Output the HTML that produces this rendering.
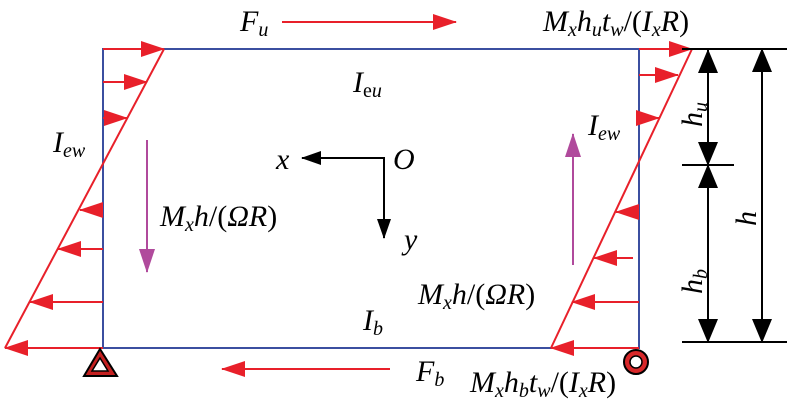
<!DOCTYPE html>
<html><head><meta charset="utf-8"><style>
html,body{margin:0;padding:0;background:#fff;}
svg{display:block;}
text{font-family:"Liberation Serif",serif;font-style:italic;fill:#000;}
.s{font-size:20px;}
</style></head><body>
<svg width="795" height="404" viewBox="0 0 795 404" xmlns="http://www.w3.org/2000/svg">
<defs>
<marker id="rb" markerWidth="24" markerHeight="16" refX="23" refY="8" orient="auto" markerUnits="userSpaceOnUse"><path d="M0,0 L24,8 L0,16 Z" fill="#e8202a"/></marker>
<marker id="k" markerWidth="24" markerHeight="20" refX="23" refY="10" orient="auto" markerUnits="userSpaceOnUse"><path d="M0,0 L24,10 L0,20 Z" fill="#000"/></marker>
<marker id="ks" markerWidth="20" markerHeight="14" refX="19" refY="7" orient="auto" markerUnits="userSpaceOnUse"><path d="M0,0 L20,7 L0,14 Z" fill="#000"/></marker>
<marker id="p" markerWidth="24" markerHeight="16" refX="23" refY="8" orient="auto" markerUnits="userSpaceOnUse"><path d="M0,0 L24,8 L0,16 Z" fill="#b04a9c"/></marker>
</defs>
<rect x="103" y="49" width="536" height="299" fill="none" stroke="#3b4fa0" stroke-width="2"/>
<line x1="164" y1="49" x2="5" y2="348" stroke="#e8202a" stroke-width="2"/>
<g stroke="#e8202a" stroke-width="2">
<line x1="103" y1="49" x2="164" y2="49" marker-end="url(#rb)"/>
<line x1="103" y1="82" x2="147" y2="82" marker-end="url(#rb)"/>
<line x1="103" y1="118" x2="127" y2="118" marker-end="url(#rb)"/>
<line x1="103" y1="210" x2="80" y2="210" marker-end="url(#rb)"/>
<line x1="103" y1="249" x2="58" y2="249" marker-end="url(#rb)"/>
<line x1="103" y1="302" x2="30" y2="302" marker-end="url(#rb)"/>
<line x1="103" y1="348" x2="5" y2="348" marker-end="url(#rb)"/>
</g>
<line x1="692" y1="49" x2="551" y2="348" stroke="#e8202a" stroke-width="2"/>
<g stroke="#e8202a" stroke-width="2">
<line x1="639" y1="49" x2="692" y2="49" marker-end="url(#rb)"/>
<line x1="639" y1="75" x2="678" y2="75" marker-end="url(#rb)"/>
<line x1="639" y1="118" x2="659" y2="118" marker-end="url(#rb)"/>
<line x1="639" y1="212" x2="616" y2="212" marker-end="url(#rb)"/>
<line x1="633" y1="258" x2="594" y2="258" marker-end="url(#rb)"/>
<line x1="639" y1="302" x2="572" y2="302" marker-end="url(#rb)"/>
<line x1="639" y1="348" x2="551" y2="348" marker-end="url(#rb)"/>
</g>
<line x1="282" y1="22" x2="456" y2="22" stroke="#e8202a" stroke-width="2" marker-end="url(#rb)"/>
<line x1="390" y1="369" x2="222" y2="369" stroke="#e8202a" stroke-width="2" marker-end="url(#rb)"/>
<line x1="147" y1="140" x2="147" y2="272" stroke="#b04a9c" stroke-width="2" marker-end="url(#p)"/>
<line x1="573" y1="265" x2="573" y2="134" stroke="#b04a9c" stroke-width="2" marker-end="url(#p)"/>
<path d="M384,158 L302,158" stroke="#000" stroke-width="2" fill="none" marker-end="url(#ks)"/>
<path d="M384,157 L384,238" stroke="#000" stroke-width="2" fill="none" marker-end="url(#ks)"/>
<g stroke="#000" stroke-width="2">
<line x1="682" y1="49" x2="787" y2="49"/>
<line x1="682" y1="165" x2="734" y2="165"/>
<line x1="682" y1="342" x2="787" y2="342"/>
<line x1="708" y1="165" x2="708" y2="50" marker-end="url(#k)"/>
<line x1="708" y1="50" x2="708" y2="165" marker-end="url(#k)"/>
<line x1="708" y1="342" x2="708" y2="165" marker-end="url(#k)"/>
<line x1="708" y1="165" x2="708" y2="342" marker-end="url(#k)"/>
<line x1="762" y1="342" x2="762" y2="49" marker-end="url(#k)"/>
<line x1="762" y1="49" x2="762" y2="342" marker-end="url(#k)"/>
</g>
<path d="M100,349 L84,376 L117,376 Z" fill="#c42020" stroke="#000" stroke-width="2"/>
<path d="M100,358 L92,371 L108,371 Z" fill="#fff" stroke="#000" stroke-width="1.5"/>
<circle cx="636" cy="362" r="12" fill="#d8282a" stroke="#000" stroke-width="2"/>
<circle cx="636" cy="362" r="6" fill="#fff" stroke="#000" stroke-width="1.5"/>
<text x="240" y="31" font-size="30">F<tspan class="s" dy="5">u</tspan></text>
<text x="543" y="31" font-size="30">M<tspan class="s" dy="5">x</tspan><tspan dy="-5">h</tspan><tspan class="s" dy="5">u</tspan><tspan dy="-5">t</tspan><tspan class="s" dy="5">w</tspan><tspan dy="-5" style="font-style:normal">/(</tspan>I<tspan class="s" dy="5">x</tspan><tspan dy="-5">R</tspan><tspan style="font-style:normal">)</tspan></text>
<text x="353" y="92" font-size="30">I<tspan class="s" dy="5" style="font-style:normal">e</tspan><tspan class="s">u</tspan></text>
<text x="53" y="152" font-size="30">I<tspan class="s" dy="5">ew</tspan></text>
<text x="588" y="135" font-size="30">I<tspan class="s" dy="5">ew</tspan></text>
<text x="276" y="169" font-size="30">x</text>
<text x="393" y="169" font-size="30">O</text>
<text x="404" y="249" font-size="30">y</text>
<text x="160" y="226" font-size="30">M<tspan class="s" dy="5">x</tspan><tspan dy="-5">h</tspan><tspan style="font-style:normal">/(</tspan>ΩR<tspan style="font-style:normal">)</tspan></text>
<text x="418" y="304" font-size="30">M<tspan class="s" dy="5">x</tspan><tspan dy="-5">h</tspan><tspan style="font-style:normal">/(</tspan>ΩR<tspan style="font-style:normal">)</tspan></text>
<text x="363" y="330" font-size="30">I<tspan class="s" dy="5">b</tspan></text>
<text x="416" y="381" font-size="30">F<tspan class="s" dy="5">b</tspan></text>
<text x="470" y="392" font-size="30">M<tspan class="s" dy="5">x</tspan><tspan dy="-5">h</tspan><tspan class="s" dy="5">b</tspan><tspan dy="-5">t</tspan><tspan class="s" dy="5">w</tspan><tspan dy="-5" style="font-style:normal">/(</tspan>I<tspan class="s" dy="5">x</tspan><tspan dy="-5">R</tspan><tspan style="font-style:normal">)</tspan></text>
<text transform="translate(702,127) rotate(-90)" font-size="30">h<tspan class="s" dy="5">u</tspan></text>
<text transform="translate(702,294) rotate(-90)" font-size="30">h<tspan class="s" dy="5">b</tspan></text>
<text transform="translate(756,226) rotate(-90)" font-size="30">h</text>
</svg>
</body></html>
